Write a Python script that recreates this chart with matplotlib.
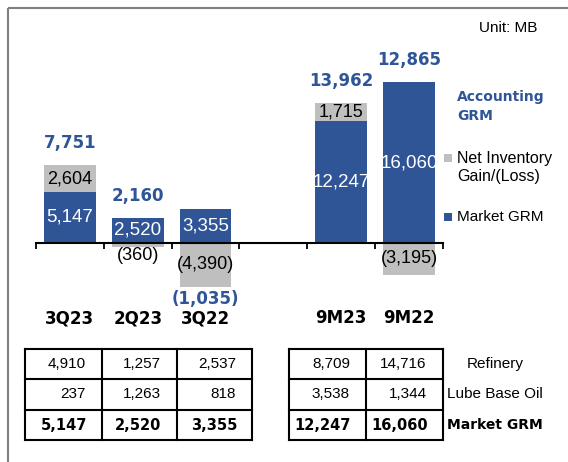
import numpy as np
import matplotlib
matplotlib.use('Agg')
import matplotlib.pyplot as plt
from matplotlib.patches import Rectangle

plt.rcParams['font.family'] = ['Liberation Sans', 'DejaVu Sans']
BOLD = 'DejaVu Sans'

# chart data
periods    = ['3Q23', '2Q23', '3Q22', '', '9M23', '9M22']
market_grm = [5147, 2520, 3355, None, 12247, 16060]
inventory  = [2604, -360, -4390, None, 1715, -3195]
accounting = [7751, 2160, -1035, None, 13962, 12865]

# table data
refinery_q  = [4910, 1257, 2537]
lube_q      = [237, 1263, 818]
market_q    = [5147, 2520, 3355]
refinery_9m = [8709, 14716]
lube_9m     = [3538, 1344]
market_9m   = [12247, 16060]
row_names   = ['Refinery', 'Lube Base Oil', 'Market GRM']

BLUE = '#2F5597'
GRAY = '#BFBFBF'
W, H = 568, 462

def fmt(v):
   return f'({abs(v):,})' if v < 0 else f'{v:,}'

fig = plt.figure(figsize=(W/100, H/100), dpi=100)

# overlay in pixel coordinates: frame, legend, table
ov = fig.add_axes([0, 0, 1, 1])
ov.set_xlim(0, W)
ov.set_ylim(H, 0)
ov.axis('off')
ov.add_patch(Rectangle((7.5, 7.5), 700, 600, fill=False, ec='#808080', lw=1.5))
ov.text(537, 28, 'Unit: MB', ha='right', va='center', fontsize=11)

# legend
ov.text(457, 97, 'Accounting', color=BLUE, fontsize=10, weight='bold', family=BOLD, va='center')
ov.text(457, 116, 'GRM', color=BLUE, fontsize=10, weight='bold', family=BOLD, va='center')
ov.add_patch(Rectangle((444, 154), 8, 8, color=GRAY, lw=0))
ov.text(457, 158, 'Net Inventory', fontsize=11.5, va='center')
ov.text(457, 177, 'Gain/(Loss)', fontsize=11.5, va='center')
ov.add_patch(Rectangle((444, 213), 8, 8, color=BLUE, lw=0))
ov.text(457, 217, 'Market GRM', fontsize=11, va='center')

# tables
row_y = [349, 379, 410, 440]
def draw_table(xs, rows):
   for x in xs:
      ov.plot([x, x], [row_y[0], row_y[-1]], color='k', lw=1.5, solid_capstyle='projecting')
   for y in row_y:
      ov.plot([xs[0], xs[-1]], [y, y], color='k', lw=1.5, solid_capstyle='projecting')
   for r, vals in enumerate(rows):
      yc = (row_y[r] + row_y[r+1]) / 2
      for c, v in enumerate(vals):
         if r == 2:
            ov.text(xs[c+1] - 15, yc, fmt(v), ha='right', va='center', fontsize=10.5,
                    weight='bold', family=BOLD)
         else:
            ov.text(xs[c+1] - 16, yc, fmt(v), ha='right', va='center', fontsize=11)

draw_table([25, 101.7, 176.7, 252], [refinery_q, lube_q, market_q])
draw_table([289.3, 366, 442.7], [refinery_9m, lube_9m, market_9m])
for r, name in enumerate(row_names):
   yc = (row_y[r] + row_y[r+1]) / 2
   if r == 2:
      ov.text(495, yc, name, ha='center', va='center', fontsize=10, weight='bold', family=BOLD)
   else:
      ov.text(495, yc, name, ha='center', va='center', fontsize=11)

## Bars ########################################################################
ax = fig.add_axes([36/W, (H-300)/H, 407/W, 260/H])
ax.patch.set_visible(False)
ax.set_xlim(-0.5, 5.5)
ax.set_ylim(-5700, 20300)
for s in ['top', 'right', 'left']:
   ax.spines[s].set_visible(False)
ax.spines['bottom'].set_position(('data', 0))
ax.spines['bottom'].set_linewidth(1.5)
ax.set_xticks(np.arange(-0.5, 6, 1))
ax.tick_params(axis='x', direction='out', length=4, width=1.3, labelbottom=False)
ax.set_yticks([])

bw = 0.76
for i, lab in enumerate(periods):
   ax.annotate(lab, (i, 0), xytext=(0, -75), textcoords='offset pixels', ha='center',
               va='center', fontsize=12, weight='bold', family=BOLD)
   m = market_grm[i]
   if m is None:
      continue
   inv = inventory[i]
   bar = ax.bar(i, m, bw, color=BLUE, lw=0)[0]
   bot = m if inv > 0 else 0
   ax.bar(i, inv, bw, bottom=bot, color=GRAY, lw=0)
   t = ax.text(i, m/2, fmt(m), color='w', ha='center', va='center', fontsize=13.5)
   t.set_clip_path(bar)
   if abs(inv) >= 1000:
      ax.text(i, bot + inv/2, fmt(inv), ha='center', va='center', fontsize=13)
   else:
      ax.annotate(fmt(inv), (i, bot + inv), xytext=(0, 0), textcoords='offset pixels',
                  ha='center', va='top', fontsize=13)
   tot = accounting[i]
   if tot >= 0:
      top = max(m, bot + inv)
      ax.annotate(fmt(tot), (i, top), xytext=(0, 22), textcoords='offset pixels',
                  ha='center', va='center', color=BLUE, fontsize=12, weight='bold', family=BOLD)
   else:
      ax.annotate(fmt(tot), (i, bot + inv), xytext=(0, -12), textcoords='offset pixels',
                  ha='center', va='center', color=BLUE, fontsize=12, weight='bold', family=BOLD)

fig.savefig('out.png', dpi=100)
